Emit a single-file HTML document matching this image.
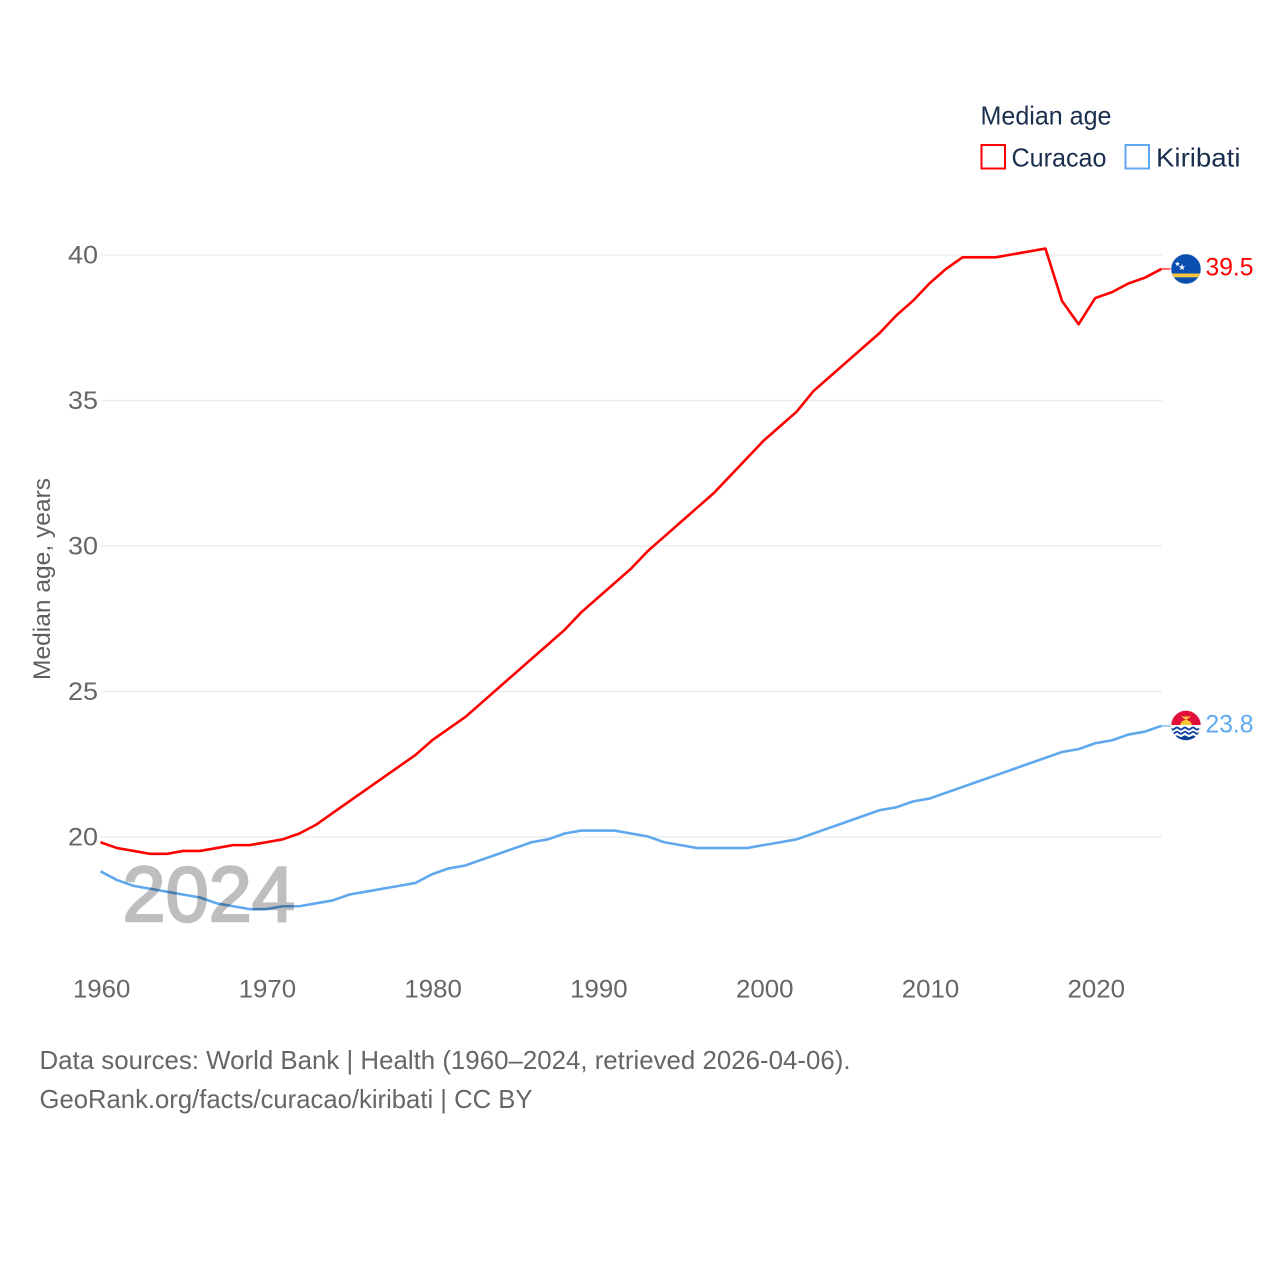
<!DOCTYPE html>
<html lang="en">
<head>
<meta charset="utf-8">
<title>Median age: Curacao and Kiribati</title>
<style>
html,body{margin:0;padding:0;background:#fff;width:1280px;height:1280px;overflow:hidden}
svg{display:block}
text{font-family:"Liberation Sans",sans-serif}
</style>
</head>
<body>
<svg id="chart" width="1280" height="1280" viewBox="0 0 1280 1280" xmlns="http://www.w3.org/2000/svg">
  <defs>
    <clipPath id="flag-clip-a"><circle cx="1186" cy="269" r="15"/></clipPath>
    <clipPath id="flag-clip-b"><circle cx="1186" cy="725.5" r="15"/></clipPath>
  </defs>
  <rect width="1280" height="1280" fill="#fff"/>
  <g id="grid"></g>
  <g id="yticks"></g>
  <g id="xticks"></g>
  <text transform="translate(50,579) rotate(-90)" text-anchor="middle" font-size="24" fill="#5f5f5f" textLength="202" lengthAdjust="spacingAndGlyphs">Median age, years</text>
  <g id="series" transform="translate(-0.5,-0.6)"></g>
  <text x="122.5" y="921" font-size="78" fill="#000" stroke="#000" stroke-width="2.4" opacity="0.25" textLength="172.5" lengthAdjust="spacingAndGlyphs">2024</text>

  <g clip-path="url(#flag-clip-a)">
    <rect x="1171" y="254" width="30" height="30" fill="#0a4fb0"/>
    <rect x="1171" y="273.5" width="30" height="3.8" fill="#f5c53d"/>
    <polygon points="1177.5,261.2 1178.2,263 1180,263.1 1178.6,264.2 1179.1,266 1177.5,265 1175.9,266 1176.4,264.2 1175,263.1 1176.8,263" fill="#fff"/>
    <polygon points="1182,263.8 1182.8,266.2 1185.2,266.3 1183.3,267.8 1184,270.1 1182,268.8 1180,270.1 1180.7,267.8 1178.8,266.3 1181.2,266.2" fill="#fff"/>
  </g>
  <circle cx="1186" cy="269" r="15" fill="none" stroke="#e8e8e8" stroke-width="0.6"/>
  <text x="1205.5" y="275.5" font-size="25" fill="#ff0000" textLength="48" lengthAdjust="spacingAndGlyphs">39.5</text>

  <g clip-path="url(#flag-clip-b)">
    <rect x="1171" y="710" width="30" height="16" fill="#e0103a"/>
    <path d="M1180 726a6 6 0 0 1 12 0z" fill="#f7c736"/>
    <path d="M1181 716.5h10l-5 3.5z" fill="#f7c736"/>
    <rect x="1171" y="725" width="30" height="16" fill="#fff"/>
    <path d="M1171 728.5q2 2 4 0t4 0t4 0t4 0t4 0t4 0t4 0" fill="none" stroke="#0b3f9c" stroke-width="1.8"/>
    <path d="M1171 732.8q2 2 4 0t4 0t4 0t4 0t4 0t4 0t4 0" fill="none" stroke="#0b3f9c" stroke-width="1.8"/>
    <path d="M1171 736.2q2 1.6 4 0t4 0t4 0t4 0t4 0t4 0t4 0V742h-30z" fill="#0b3f9c"/>
  </g>
  <circle cx="1186" cy="725.5" r="15" fill="none" stroke="#e8e8e8" stroke-width="0.6"/>
  <text x="1205.5" y="732.5" font-size="25" fill="#5fa8ee" textLength="48" lengthAdjust="spacingAndGlyphs">23.8</text>

  <g>
    <text x="980.5" y="124.5" font-size="26" fill="#1a2f4d" textLength="131" lengthAdjust="spacingAndGlyphs">Median age</text>
    <g>
      <rect x="981.5" y="145" width="23.5" height="23.5" fill="#fff" stroke="#ff0000" stroke-width="2"/>
      <text x="1011.5" y="166.5" font-size="26" fill="#1a2f4d" textLength="95" lengthAdjust="spacingAndGlyphs">Curacao</text>
    </g>
    <g>
      <rect x="1125.5" y="145" width="23.5" height="23.5" fill="#fff" stroke="#5fa8ee" stroke-width="2"/>
      <text x="1156" y="166.5" font-size="26" fill="#1a2f4d" textLength="84.5" lengthAdjust="spacingAndGlyphs">Kiribati</text>
    </g>
  </g>

  <text x="39.5" y="1069" font-size="26" fill="#666666" textLength="811" lengthAdjust="spacingAndGlyphs">Data sources: World Bank | Health (1960–2024, retrieved 2026-04-06).</text>
  <text x="39.5" y="1108" font-size="26" fill="#666666" textLength="493" lengthAdjust="spacingAndGlyphs">GeoRank.org/facts/curacao/kiribati | CC BY</text>
</svg>
<script>
var years = [1960,1961,1962,1963,1964,1965,1966,1967,1968,1969,1970,1971,1972,1973,1974,1975,1976,1977,1978,1979,1980,1981,1982,1983,1984,1985,1986,1987,1988,1989,1990,1991,1992,1993,1994,1995,1996,1997,1998,1999,2000,2001,2002,2003,2004,2005,2006,2007,2008,2009,2010,2011,2012,2013,2014,2015,2016,2017,2018,2019,2020,2021,2022,2023,2024];
var curacaoValues = [19.8,19.6,19.5,19.4,19.4,19.5,19.5,19.6,19.7,19.7,19.8,19.9,20.1,20.4,20.8,21.2,21.6,22.0,22.4,22.8,23.3,23.7,24.1,24.6,25.1,25.6,26.1,26.6,27.1,27.7,28.2,28.7,29.2,29.8,30.3,30.8,31.3,31.8,32.4,33.0,33.6,34.1,34.6,35.3,35.8,36.3,36.8,37.3,37.9,38.4,39.0,39.5,39.9,39.9,39.9,40.0,40.1,40.2,38.4,37.6,38.5,38.7,39.0,39.2,39.5];
var kiribatiValues = [18.8,18.5,18.3,18.2,18.1,18.0,17.9,17.7,17.6,17.5,17.5,17.6,17.6,17.7,17.8,18.0,18.1,18.2,18.3,18.4,18.7,18.9,19.0,19.2,19.4,19.6,19.8,19.9,20.1,20.2,20.2,20.2,20.1,20.0,19.8,19.7,19.6,19.6,19.6,19.6,19.7,19.8,19.9,20.1,20.3,20.5,20.7,20.9,21.0,21.2,21.3,21.5,21.7,21.9,22.1,22.3,22.5,22.7,22.9,23.0,23.2,23.3,23.5,23.6,23.8];
var yTickValues = [20,25,30,35,40];
var xTickValues = [1960,1970,1980,1990,2000,2010,2020];

var NS = 'http://www.w3.org/2000/svg';
function xScale(year){ return 101 + (year - 1960) * (1162 - 101) / 64; }
function yScale(v){ return 837 - (v - 20) * (837 - 255) / 20; }
function make(tag, attrs, parent){
  var el = document.createElementNS(NS, tag);
  for (var k in attrs) el.setAttribute(k, attrs[k]);
  parent.appendChild(el);
  return el;
}
var grid = document.getElementById('grid');
var yt = document.getElementById('yticks');
var xt = document.getElementById('xticks');
var series = document.getElementById('series');

yTickValues.forEach(function(v){
  var line = make('line', {x1:101, x2:1162, y1:yScale(v), y2:yScale(v), stroke:'#ebebeb', 'stroke-width':1.3}, grid);
  
  
  var t = make('text', {x:98, y:yScale(v) + 8.5, 'text-anchor':'end', 'font-size':25, fill:'#666666', textLength:30, lengthAdjust:'spacingAndGlyphs'}, yt);
  
  
  t.textContent = v;
});
xTickValues.forEach(function(y){
  var t = make('text', {x:xScale(y) + 0.6, y:997.5, 'text-anchor':'middle', 'font-size':25, fill:'#666666', textLength:57.5, lengthAdjust:'spacingAndGlyphs'}, xt);
  
  
  t.textContent = y;
});
function drawSeries(values, color, name){
  var pts = values.map(function(v, i){ return xScale(years[i]).toFixed(2) + ',' + yScale(v).toFixed(2); });
  var path = make('polyline', {points:pts.join(' '), fill:'none', stroke:color, 'stroke-width':2.6, 'stroke-linejoin':'round'}, series);
  
  
  var last = values[values.length - 1];
  var lastYear = years[years.length - 1];
  var conn = make('line', {x1:xScale(lastYear), x2:xScale(lastYear) + 9, y1:yScale(last), y2:yScale(last), stroke:color, 'stroke-width':2, 'stroke-opacity':0.6}, series);
  
  
}
drawSeries(curacaoValues, '#ff0000', 'curacao');
drawSeries(kiribatiValues, '#5fa8ee', 'kiribati');
</script>
</body>
</html>
